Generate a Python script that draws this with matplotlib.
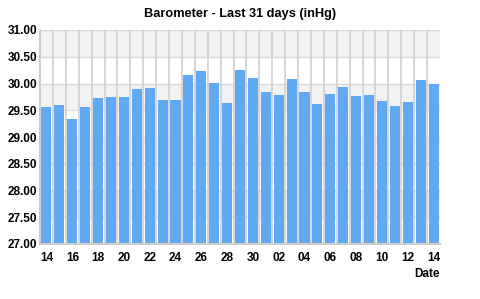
import numpy as np
import matplotlib
matplotlib.use('Agg')
import matplotlib.pyplot as plt

# day of month for each bar (last 31 days)
days = list(range(14, 31)) + list(range(1, 15))
# barometer readings, inHg
pressure = [29.56, 29.60, 29.34, 29.56, 29.73, 29.75, 29.75, 29.90, 29.92, 29.69,
            29.69, 30.16, 30.23, 30.01, 29.64, 30.25, 30.10, 29.84, 29.79, 30.08,
            29.84, 29.62, 29.80, 29.93, 29.77, 29.79, 29.67, 29.58, 29.65, 30.07,
            29.99]
yticks = [27.0, 27.5, 28.0, 28.5, 29.0, 29.5, 30.0, 30.5, 31.0]

plt.rcParams['font.family'] = ['Liberation Sans', 'DejaVu Sans']

fig = plt.figure(figsize=(4.8, 2.99), dpi=100)
ax = fig.add_axes([40/480., 55/299., 400/480., 214/299.])

# alternating background bands
for i in range(len(yticks) - 1):
    if i % 2 == 1:
        ax.axhspan(yticks[i], yticks[i+1], color='#f2f2f2', zorder=0, lw=0)
for y in yticks[1:]:
    ax.axhline(y, color='#d8d8d8', lw=1, zorder=1)

x = np.arange(len(days))
for xv in x[:-1]:
    ax.axvline(xv + 0.5, color='#d0d0d0', lw=1.2, zorder=1)

ax.bar(x, pressure, width=0.78, bottom=0, color='#61a9f2', zorder=2)

ax.set_xlim(-0.5, len(days) - 0.5)
ax.set_ylim(27.0, 31.0)
ax.set_yticks(yticks)
ax.set_yticklabels(['%.2f' % v for v in yticks], fontsize=8.5, fontweight='bold')
ax.set_xticks(x[::2])
ax.set_xticklabels(['%02d' % d for d in days[::2]], fontsize=8.5, fontweight='bold')
ax.tick_params(length=0, pad=6)
ax.tick_params(axis='y', pad=2)

for s in ['top', 'right']:
    ax.spines[s].set_visible(False)
for s in ['left', 'bottom']:
    ax.spines[s].set_color('#cccccc')
    ax.spines[s].set_linewidth(1.5)

ax.set_title('Barometer - Last 31 days (inHg)', fontsize=9.2, fontweight='bold', pad=9)
fig.text(440/480., 1 - 274/299., 'Date', ha='right', va='center', fontsize=8.5, fontweight='bold')

plt.savefig('out.png', dpi=100)
